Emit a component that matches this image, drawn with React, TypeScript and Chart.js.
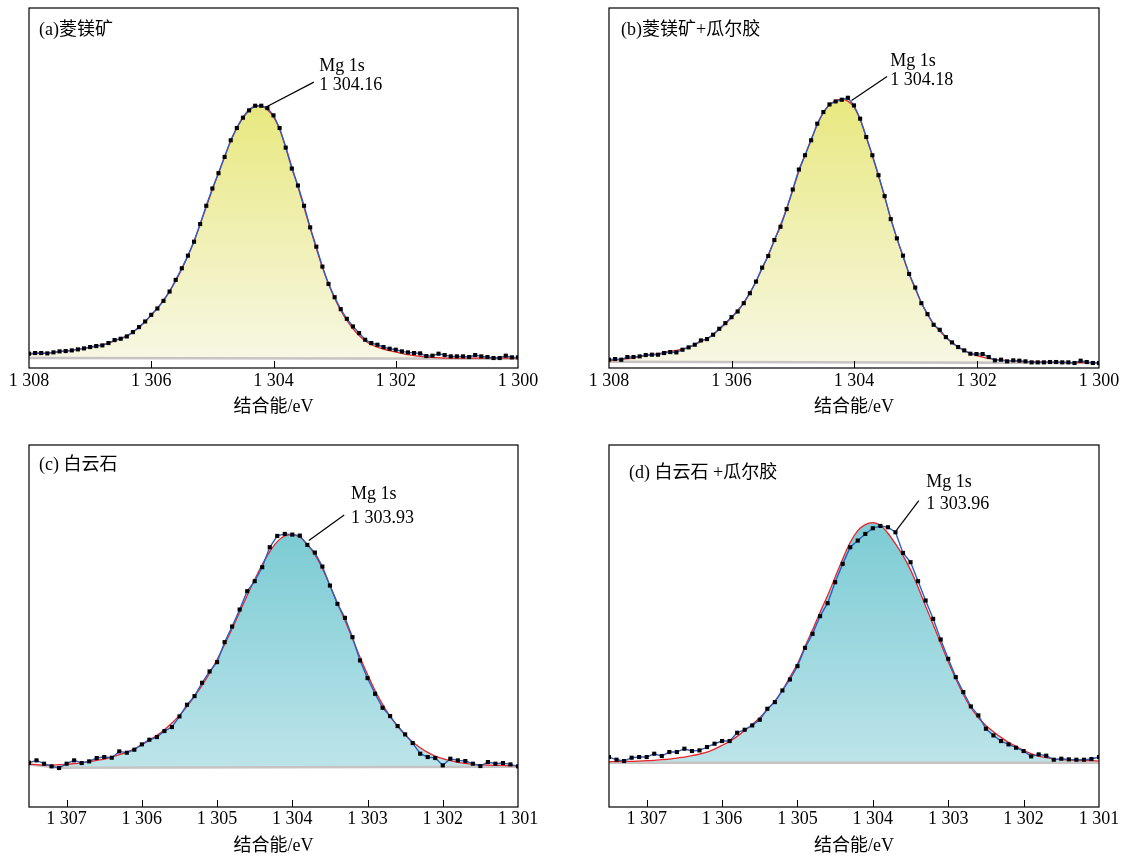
import React, { useEffect, useRef } from 'react';
import { Chart, registerables } from 'chart.js';

Chart.register(...registerables);

const FONT = "'Liberation Serif', 'Noto Sans CJK SC', serif";

// ---- binding energy grids (eV) ----
const ENERGY_AB = [
  1308.0, 1307.9, 1307.8, 1307.7, 1307.6, 1307.5, 1307.4, 1307.3, 1307.2, 1307.1,
  1307.0, 1306.9, 1306.8, 1306.7, 1306.6, 1306.5, 1306.4, 1306.3, 1306.2, 1306.1,
  1306.0, 1305.9, 1305.8, 1305.7, 1305.6, 1305.5, 1305.4, 1305.3, 1305.2, 1305.1,
  1305.0, 1304.9, 1304.8, 1304.7, 1304.6, 1304.5, 1304.4, 1304.3, 1304.2, 1304.1,
  1304.0, 1303.9, 1303.8, 1303.7, 1303.6, 1303.5, 1303.4, 1303.3, 1303.2, 1303.1,
  1303.0, 1302.9, 1302.8, 1302.7, 1302.6, 1302.5, 1302.4, 1302.3, 1302.2, 1302.1,
  1302.0, 1301.9, 1301.8, 1301.7, 1301.6, 1301.5, 1301.4, 1301.3, 1301.2, 1301.1,
  1301.0, 1300.9, 1300.8, 1300.7, 1300.6, 1300.5, 1300.4, 1300.3, 1300.2, 1300.1,
  1300.0,
];
const ENERGY_CD = [
  1307.5, 1307.4, 1307.3, 1307.2, 1307.1, 1307.0, 1306.9, 1306.8, 1306.7, 1306.6,
  1306.5, 1306.4, 1306.3, 1306.2, 1306.1, 1306.0, 1305.9, 1305.8, 1305.7, 1305.6,
  1305.5, 1305.4, 1305.3, 1305.2, 1305.1, 1305.0, 1304.9, 1304.8, 1304.7, 1304.6,
  1304.5, 1304.4, 1304.3, 1304.2, 1304.1, 1304.0, 1303.9, 1303.8, 1303.7, 1303.6,
  1303.5, 1303.4, 1303.3, 1303.2, 1303.1, 1303.0, 1302.9, 1302.8, 1302.7, 1302.6,
  1302.5, 1302.4, 1302.3, 1302.2, 1302.1, 1302.0, 1301.9, 1301.8, 1301.7, 1301.6,
  1301.5, 1301.4, 1301.3, 1301.2, 1301.1, 1301.0,
];

// ---- (a) magnesite ----
const MEAS_A = [
  43, 45, 45, 44, 47, 50, 51, 53, 56, 59, 63, 66, 68, 75, 84, 88, 95, 108, 123, 140,
  160, 179, 202, 230, 265, 300, 338, 380, 433, 488, 540, 586, 635, 685, 722, 753, 775, 789, 789, 782,
  760, 722, 663, 600, 549, 488, 423, 365, 305, 253, 213, 177, 148, 125, 105, 85, 75, 70, 63, 58,
  55, 50, 47, 45, 44, 36, 37, 43, 39, 35, 35, 35, 33, 39, 35, 33, 30, 30, 37, 32,
  32,
];
const FIT_A = [
  42, 43, 44, 45, 47, 49, 51, 53, 56, 59, 62, 66, 70, 75, 82, 89, 97, 108, 122, 139,
  159, 180, 204, 231, 262, 298, 338, 382, 432, 485, 537, 587, 636, 683, 723, 755, 777, 788, 788, 777,
  755, 718, 665, 605, 545, 483, 420, 360, 303, 253, 210, 173, 143, 118, 98, 82, 70, 63, 57, 52,
  48, 44, 40, 37, 35, 33, 32, 31, 30, 30, 30, 30, 30, 30, 30, 30, 30, 30, 30, 30,
  30,
];
const BG_A_X = [1308, 1300];
const BG_A_Y = [30, 28];

// ---- (b) magnesite + guar gum ----
const MEAS_B = [
  25, 27, 25, 33, 33, 35, 39, 40, 40, 45, 48, 47, 55, 62, 70, 83, 87, 100, 118, 135,
  153, 170, 195, 225, 260, 302, 337, 385, 425, 478, 537, 597, 640, 685, 735, 770, 793, 802, 807, 813,
  790, 750, 695, 640, 580, 517, 448, 390, 338, 283, 242, 195, 162, 130, 115, 93, 77, 63, 53, 43,
  42, 42, 33, 23, 25, 20, 23, 22, 20, 17, 17, 17, 18, 18, 17, 17, 15, 22, 18, 15,
  15,
];
const FIT_B = [
  22, 24, 26, 28, 31, 34, 37, 40, 43, 47, 50, 53, 57, 63, 70, 79, 89, 101, 116, 133,
  152, 173, 197, 226, 260, 299, 340, 385, 430, 480, 535, 592, 640, 688, 732, 768, 792, 804, 808, 803,
  785, 748, 695, 638, 578, 515, 450, 390, 335, 283, 238, 196, 162, 133, 111, 92, 76, 63, 52, 44,
  38, 33, 29, 26, 24, 22, 21, 20, 19, 19, 18, 18, 17, 17, 17, 16, 16, 16, 16, 16,
  16,
];
const BG_B_X = [1308, 1300];
const BG_B_Y = [19, 15];

// ---- (c) dolomite ----
const MEAS_C = [
  133, 140, 130, 122, 117, 130, 140, 132, 137, 147, 150, 148, 167, 163, 172, 188, 202, 210, 228, 240,
  272, 307, 333, 373, 407, 435, 495, 542, 593, 648, 678, 720, 780, 814, 820, 818, 815, 787, 764, 722,
  665, 610, 568, 510, 440, 387, 340, 298, 273, 243, 218, 192, 160, 150, 147, 125, 145, 140, 138, 130,
  123, 135, 130, 132, 128, 122,
];
const FIT_C = [
  128, 127, 126, 126, 127, 128, 130, 133, 136, 140, 144, 150, 157, 165, 175, 187, 200, 215, 232, 252,
  275, 302, 332, 365, 402, 443, 488, 535, 585, 635, 683, 728, 767, 797, 814, 817, 810, 788, 758, 716,
  665, 612, 560, 505, 450, 398, 350, 308, 272, 242, 216, 195, 178, 164, 153, 145, 139, 134, 131, 128,
  127, 126, 125, 125, 124, 124,
];
const BG_C_X = [1307.5, 1307.1, 1301];
const BG_C_Y = [128, 118, 121];

// ---- (d) dolomite + guar gum ----
const MEAS_D = [
  150, 142, 138, 148, 150, 150, 160, 153, 165, 165, 175, 168, 170, 180, 190, 198, 198, 223, 232, 245,
  262, 295, 315, 350, 383, 423, 478, 520, 573, 612, 675, 730, 780, 800, 820, 837, 844, 840, 825, 763,
  735, 678, 620, 565, 503, 445, 390, 345, 302, 275, 235, 215, 198, 188, 178, 168, 152, 158, 154, 142,
  145, 143, 142, 142, 144, 150,
];
const FIT_D = [
  136, 136, 137, 137, 138, 139, 140, 142, 144, 147, 150, 154, 159, 165, 174, 185, 197, 212, 230, 248,
  268, 292, 318, 350, 390, 430, 482, 532, 585, 635, 690, 745, 795, 830, 848, 854, 846, 822, 790, 755,
  712, 660, 603, 548, 492, 436, 385, 338, 298, 268, 245, 226, 209, 194, 182, 170, 160, 153, 148, 144,
  142, 141, 140, 139, 139, 138,
];
const BG_D_X = [1307.5, 1301];
const BG_D_Y = [133, 133];

// ---- axes / labels ----
const TICKS_AB = [1308, 1306, 1304, 1302, 1300];
const TICK_LABELS_AB = ['1 308', '1 306', '1 304', '1 302', '1 300'];
const TICKS_CD = [1307, 1306, 1305, 1304, 1303, 1302, 1301];
const TICK_LABELS_CD = ['1 307', '1 306', '1 305', '1 304', '1 303', '1 302', '1 301'];
const X_TITLE = '结合能/eV';
const PANEL_TITLES = ['(a)菱镁矿', '(b)菱镁矿+瓜尔胶', '(c) 白云石', '(d) 白云石 +瓜尔胶'];
const PEAK_NAME = 'Mg 1s';
const PEAK_VALUES = ['1 304.16', '1 304.18', '1 303.93', '1 303.96'];
// leader line [fromE, fromI, toE, toI], label anchor [E, line1 I, line2 I]
const LEADERS = [
  [1304.12, 785, 1303.34, 860],
  [1304.04, 805, 1303.46, 877],
  [1303.78, 800, 1303.31, 877],
  [1303.69, 830, 1303.39, 920],
];
const LABEL_ANCHORS = [
  [1303.25, 907, 850],
  [1303.41, 923, 865],
  [1303.22, 938, 868],
  [1303.29, 975, 908],
];

const YELLOW = ['rgb(232,232,128)', 'rgb(247,247,228)'];
const TEAL = ['rgb(124,203,212)', 'rgb(188,228,233)'];

type PanelDef = {
  idx: number;
  left: number; top: number; width: number; height: number;
  pad: { left: number; right: number; top: number; bottom: number };
  axisH: number; tickPad: number; titlePad: number;
  energy: number[]; meas: number[]; fit: number[]; bgX: number[]; bgY: number[];
  xMin: number; xMax: number; yMax: number;
  ticks: number[]; tickLabels: string[];
  colors: string[];
  titleDx: number; titleDy: number;
};

const PANELS: PanelDef[] = [
  {
    idx: 0, left: 0, top: 0, width: 563, height: 428,
    pad: { left: 29, right: 45, top: 8, bottom: 0 }, axisH: 60, tickPad: 2, titlePad: 10,
    energy: ENERGY_AB, meas: MEAS_A, fit: FIT_A, bgX: BG_A_X, bgY: BG_A_Y,
    xMin: 1300, xMax: 1308, yMax: 1083, ticks: TICKS_AB, tickLabels: TICK_LABELS_AB,
    colors: YELLOW, titleDx: 10, titleDy: 22,
  },
  {
    idx: 1, left: 563, top: 0, width: 563, height: 428,
    pad: { left: 46, right: 27, top: 8, bottom: 0 }, axisH: 60, tickPad: 2, titlePad: 10,
    energy: ENERGY_AB, meas: MEAS_B, fit: FIT_B, bgX: BG_B_X, bgY: BG_B_Y,
    xMin: 1300, xMax: 1308, yMax: 1083, ticks: TICKS_AB, tickLabels: TICK_LABELS_AB,
    colors: YELLOW, titleDx: 12, titleDy: 22,
  },
  {
    idx: 2, left: 0, top: 428, width: 563, height: 429,
    pad: { left: 29, right: 45, top: 17, bottom: 0 }, axisH: 50, tickPad: 1, titlePad: 0,
    energy: ENERGY_CD, meas: MEAS_C, fit: FIT_C, bgX: BG_C_X, bgY: BG_C_Y,
    xMin: 1301, xMax: 1307.5, yMax: 1087, ticks: TICKS_CD, tickLabels: TICK_LABELS_CD,
    colors: TEAL, titleDx: 10, titleDy: 20,
  },
  {
    idx: 3, left: 563, top: 428, width: 563, height: 429,
    pad: { left: 46, right: 27, top: 17, bottom: 0 }, axisH: 50, tickPad: 1, titlePad: 0,
    energy: ENERGY_CD, meas: MEAS_D, fit: FIT_D, bgX: BG_D_X, bgY: BG_D_Y,
    xMin: 1301, xMax: 1307.5, yMax: 1087, ticks: TICKS_CD, tickLabels: TICK_LABELS_CD,
    colors: TEAL, titleDx: 20, titleDy: 28,
  },
];

function Panel({ def }: { def: PanelDef }) {
  const ref = useRef<HTMLCanvasElement>(null);
  useEffect(() => {
    const canvas = ref.current;
    if (!canvas) return;
    const measured = def.energy.map((x, i) => ({ x, y: def.meas[i] }));
    const fit = def.energy.map((x, i) => ({ x, y: def.fit[i] }));
    const bg = def.bgX.map((x, i) => ({ x, y: def.bgY[i] }));
    const fitMax = Math.max(...def.fit);

    const decor = {
      id: 'decor' + def.idx,
      afterDraw(chart: any) {
        const { ctx, chartArea: ca, scales } = chart;
        const xs = scales.x;
        const ys = scales.y;
        ctx.save();
        // frame
        ctx.strokeStyle = '#000';
        ctx.lineWidth = 1.2;
        ctx.strokeRect(ca.left, ca.top, ca.right - ca.left, ca.bottom - ca.top);
        // inward ticks
        ctx.lineWidth = 1;
        def.ticks.forEach((t) => {
          const px = Math.round(xs.getPixelForValue(t)) + 0.5;
          if (px > ca.left + 2 && px < ca.right - 2) {
            ctx.beginPath();
            ctx.moveTo(px, ca.bottom);
            ctx.lineTo(px, ca.bottom - 7);
            ctx.stroke();
          }
        });
        // panel title
        ctx.fillStyle = '#000';
        ctx.font = `18px ${FONT}`;
        ctx.textAlign = 'left';
        ctx.textBaseline = 'middle';
        ctx.fillText(PANEL_TITLES[def.idx], ca.left + def.titleDx, ca.top + def.titleDy);
        // peak annotation
        const L = LEADERS[def.idx];
        ctx.beginPath();
        ctx.lineWidth = 1.2;
        ctx.moveTo(xs.getPixelForValue(L[0]), ys.getPixelForValue(L[1]));
        ctx.lineTo(xs.getPixelForValue(L[2]), ys.getPixelForValue(L[3]));
        ctx.stroke();
        const A = LABEL_ANCHORS[def.idx];
        const ax = xs.getPixelForValue(A[0]);
        ctx.fillText(PEAK_NAME, ax, ys.getPixelForValue(A[1]));
        ctx.fillText(PEAK_VALUES[def.idx], ax, ys.getPixelForValue(A[2]));
        ctx.restore();
      },
    };

    const chart = new Chart(canvas, {
      type: 'line',
      data: {
        datasets: [
          {
            label: 'measured',
            data: measured,
            borderColor: '#2c5fc6',
            borderWidth: 1.4,
            pointStyle: 'rect',
            pointRadius: 2.9,
            pointBackgroundColor: '#000',
            pointBorderColor: '#000',
            pointBorderWidth: 0,
            fill: false,
            tension: 0,
            order: 0,
          },
          {
            label: 'fit',
            data: fit,
            borderColor: '#e8262b',
            borderWidth: 1.3,
            pointRadius: 0,
            cubicInterpolationMode: 'monotone',
            fill: 2,
            backgroundColor: (c: any) => {
              const ch = c.chart;
              if (!ch.chartArea) return def.colors[0];
              const ys = ch.scales.y;
              const g = ch.ctx.createLinearGradient(0, ys.getPixelForValue(fitMax), 0, ys.getPixelForValue(def.bgY[def.bgY.length - 1]));
              g.addColorStop(0, def.colors[0]);
              g.addColorStop(1, def.colors[1]);
              return g;
            },
            order: 1,
          },
          {
            label: 'background',
            data: bg,
            borderColor: '#c7c3c3',
            borderWidth: 2.5,
            pointRadius: 0,
            fill: false,
            order: 2,
          },
        ],
      } as any,
      options: {
        responsive: false,
        animation: false,
        devicePixelRatio: 1,
        events: [],
        layout: { padding: def.pad },
        plugins: {
          legend: { display: false },
          tooltip: { enabled: false },
          filler: { drawTime: 'beforeDatasetsDraw' },
        } as any,
        scales: {
          x: {
            type: 'linear',
            reverse: true,
            min: def.xMin,
            max: def.xMax,
            afterBuildTicks: (s: any) => {
              s.ticks = def.ticks.map((v) => ({ value: v }));
            },
            afterFit: (s: any) => {
              s.height = def.axisH;
            },
            grid: { display: false, drawTicks: false },
            border: { display: false },
            ticks: {
              autoSkip: false,
              maxRotation: 0,
              padding: def.tickPad,
              color: '#000',
              font: { family: FONT, size: 18, lineHeight: 1.2 },
              callback: (v: any) => {
                const k = def.ticks.indexOf(Number(v));
                return k >= 0 ? def.tickLabels[k] : '';
              },
            },
            title: {
              display: true,
              text: X_TITLE,
              color: '#000',
              font: { family: FONT, size: 18, lineHeight: 1.2 },
              padding: { top: 0, bottom: def.titlePad },
            },
          },
          y: { display: false, min: 0, max: def.yMax },
        },
      } as any,
      plugins: [decor],
    });
    return () => chart.destroy();
  }, [def]);

  return (
    <canvas
      ref={ref}
      width={def.width}
      height={def.height}
      style={{ position: 'absolute', left: def.left, top: def.top, width: def.width, height: def.height }}
    />
  );
}

export default function App() {
  return (
    <div style={{ position: 'absolute', left: 0, top: 0, width: 1126, height: 857, background: '#fff', overflow: 'hidden' }}>
      {PANELS.map((p) => (
        <Panel key={p.idx} def={p} />
      ))}
    </div>
  );
}
